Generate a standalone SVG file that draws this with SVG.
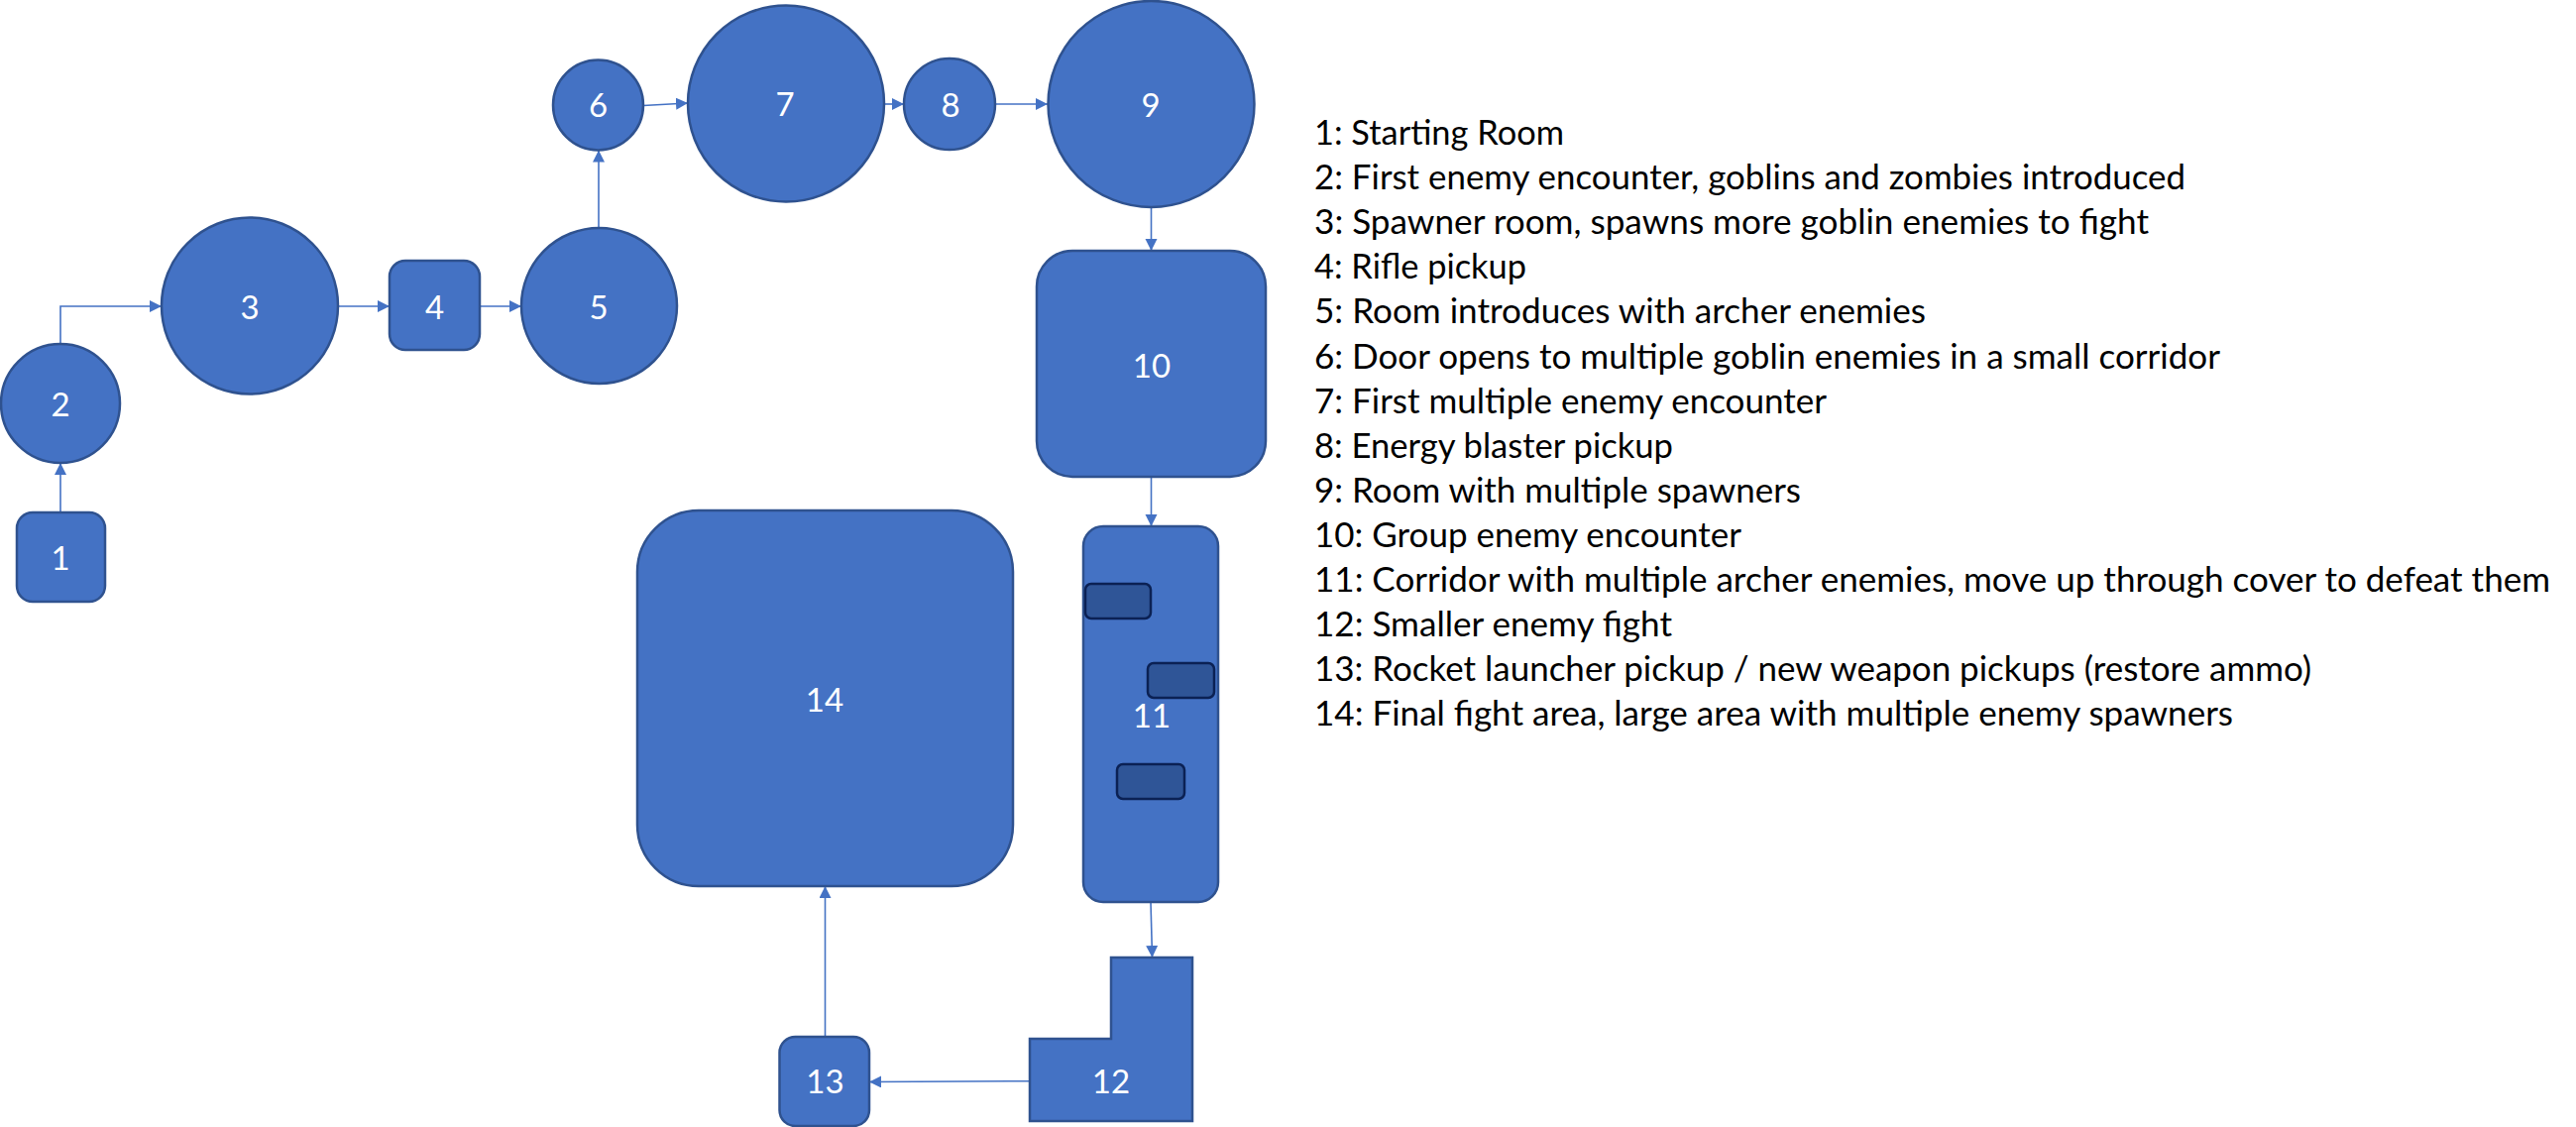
<svg xmlns="http://www.w3.org/2000/svg" width="2599" height="1137" viewBox="0 0 2599 1137">
<style>
.n{fill:#4472C4;stroke:#2F528F;stroke-width:2.5}
.c{fill:#2F5597;stroke:#0B2154;stroke-width:2.5}
.l{fill:#FFFFFF;font-family:Lato,"Liberation Sans",sans-serif;font-size:33px;text-anchor:middle}
.e{fill:none;stroke:#4472C4;stroke-width:1.6}
.t{fill:#000000;font-family:Lato,"Liberation Sans",sans-serif;font-size:35px}
</style>
<defs>
<marker id="arr" markerUnits="userSpaceOnUse" markerWidth="13" markerHeight="13" refX="12" refY="6" orient="auto">
<path d="M0,0 L12,6 L0,12 z" fill="#4472C4"/>
</marker>
</defs>
<rect width="2599" height="1137" fill="#FFFFFF"/>
<g id="connectors">
<path class="e" marker-end="url(#arr)" d="M61,517 L61,467"/>
<path class="e" marker-end="url(#arr)" d="M61,347 L61,309 L163,309"/>
<path class="e" marker-end="url(#arr)" d="M341,309 L393,309"/>
<path class="e" marker-end="url(#arr)" d="M484,309 L526,309"/>
<path class="e" marker-end="url(#arr)" d="M604,230 L604,151.5"/>
<path class="e" marker-end="url(#arr)" d="M649,106.5 L694,104"/>
<path class="e" marker-end="url(#arr)" d="M892,105 L912,105"/>
<path class="e" marker-end="url(#arr)" d="M1004,105 L1057,105"/>
<path class="e" marker-end="url(#arr)" d="M1161.5,209 L1161.5,253"/>
<path class="e" marker-end="url(#arr)" d="M1161.5,481 L1161.5,531"/>
<path class="e" marker-end="url(#arr)" d="M1161,910 L1162.5,966"/>
<path class="e" marker-end="url(#arr)" d="M1039,1090.7 L877,1091.5"/>
<path class="e" marker-end="url(#arr)" d="M832.5,1046 L832.5,894"/>
</g>
<g id="node1"><rect class="n" x="17" y="517" width="89" height="90" rx="16"/><text class="l" x="61" y="575">1</text></g>
<g id="node2"><circle class="n" cx="61" cy="407" r="60"/><text class="l" x="61" y="420">2</text></g>
<g id="node3"><circle class="n" cx="252" cy="308.5" r="89"/><text class="l" x="252" y="322">3</text></g>
<g id="node4"><rect class="n" x="393" y="263" width="91" height="90" rx="16"/><text class="l" x="438.5" y="322">4</text></g>
<g id="node5"><circle class="n" cx="604.5" cy="308.5" r="78.5"/><text class="l" x="604" y="322">5</text></g>
<g id="node6"><circle class="n" cx="603.5" cy="106" r="45.5"/><text class="l" x="603.5" y="118">6</text></g>
<g id="node7"><circle class="n" cx="793" cy="104.5" r="99"/><text class="l" x="792" y="117">7</text></g>
<g id="node8"><circle class="n" cx="958" cy="105" r="46"/><text class="l" x="959" y="118">8</text></g>
<g id="node9"><circle class="n" cx="1161.5" cy="105" r="104"/><text class="l" x="1161" y="118">9</text></g>
<g id="node10"><rect class="n" x="1046" y="253" width="231" height="228" rx="36"/><text class="l" x="1162" y="381">10</text></g>
<g id="node11"><rect class="n" x="1093" y="531" width="136" height="379" rx="20"/>
<rect class="c" x="1095" y="589" width="66" height="35" rx="6"/>
<rect class="c" x="1158" y="669" width="67" height="35" rx="6"/>
<rect class="c" x="1127" y="771" width="68" height="35" rx="6"/>
<text class="l" x="1162" y="734">11</text></g>
<g id="node12"><path class="n" d="M1121,966 L1203,966 L1203,1131 L1039,1131 L1039,1048 L1121,1048 Z"/><text class="l" x="1121" y="1103">12</text></g>
<g id="node13"><rect class="n" x="786.5" y="1046" width="90.5" height="90" rx="16"/><text class="l" x="832.5" y="1103">13</text></g>
<g id="node14"><rect class="n" x="643" y="515" width="379" height="379" rx="62"/><text class="l" x="832" y="718">14</text></g>
<g id="legend">
<text class="t" x="1326" y="146" textLength="252" lengthAdjust="spacingAndGlyphs">1: Starting Room</text>
<text class="t" x="1326" y="191.1" textLength="879" lengthAdjust="spacingAndGlyphs">2: First enemy encounter, goblins and zombies introduced</text>
<text class="t" x="1326" y="236.2" textLength="842" lengthAdjust="spacingAndGlyphs">3: Spawner room, spawns more goblin enemies to fight</text>
<text class="t" x="1326" y="281.3" textLength="214" lengthAdjust="spacingAndGlyphs">4: Rifle pickup</text>
<text class="t" x="1326" y="326.4" textLength="617" lengthAdjust="spacingAndGlyphs">5: Room introduces with archer enemies</text>
<text class="t" x="1326" y="371.5" textLength="914" lengthAdjust="spacingAndGlyphs">6: Door opens to multiple goblin enemies in a small corridor</text>
<text class="t" x="1326" y="416.6" textLength="517" lengthAdjust="spacingAndGlyphs">7: First multiple enemy encounter</text>
<text class="t" x="1326" y="461.7" textLength="362" lengthAdjust="spacingAndGlyphs">8: Energy blaster pickup</text>
<text class="t" x="1326" y="506.8" textLength="491" lengthAdjust="spacingAndGlyphs">9: Room with multiple spawners</text>
<text class="t" x="1326" y="551.9" textLength="431" lengthAdjust="spacingAndGlyphs">10: Group enemy encounter</text>
<text class="t" x="1326" y="597" textLength="1247" lengthAdjust="spacingAndGlyphs">11: Corridor with multiple archer enemies, move up through cover to defeat them</text>
<text class="t" x="1326" y="642.1" textLength="361" lengthAdjust="spacingAndGlyphs">12: Smaller enemy fight</text>
<text class="t" x="1326" y="687.2" textLength="1006" lengthAdjust="spacingAndGlyphs">13: Rocket launcher pickup / new weapon pickups (restore ammo)</text>
<text class="t" x="1326" y="732.3" textLength="927" lengthAdjust="spacingAndGlyphs">14: Final fight area, large area with multiple enemy spawners</text>
</g>
</svg>
